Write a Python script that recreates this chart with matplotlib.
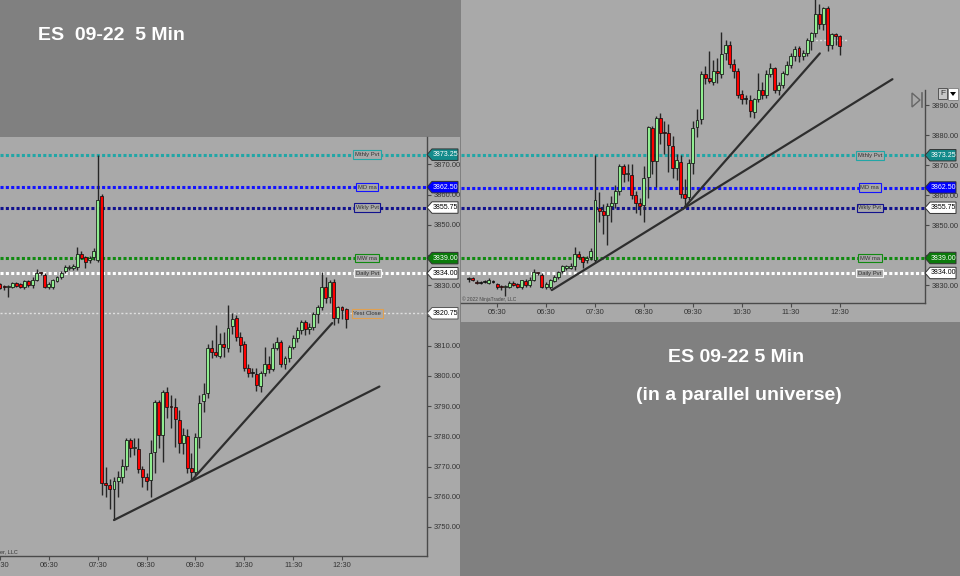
import matplotlib
matplotlib.use('Agg')
import matplotlib.pyplot as plt
from matplotlib.patches import Rectangle, Polygon
import pandas as pd

# ---- data: ES 09-22, 5 min bars from 04:55 ----
opens = [3832.0, 3832.4, 3831.1, 3830.8, 3831.1, 3830.8, 3831.1, 3830.3, 3829.4, 3829.3,
         3829.4, 3830.7, 3830.3, 3829.4, 3831.5, 3830.1, 3831.8, 3834.2, 3833.4, 3829.4,
         3829.4, 3831.5, 3832.6, 3834.6, 3835.7, 3835.7, 3836.2, 3840.3, 3839.5, 3838.3,
         3839.5, 3838.4, 3859.6, 3764.5, 3763.8, 3762.5, 3765.2, 3766.4, 3770.2, 3778.8,
         3776.0, 3775.7, 3769.1, 3766.4, 3765.6, 3774.9, 3791.5, 3780.5, 3794.8, 3790.0,
         3789.8, 3785.4, 3777.9, 3780.1, 3769.4, 3768.3, 3779.7, 3791.7, 3794.5, 3809.2,
         3808.0, 3806.7, 3810.5, 3809.4, 3816.4, 3819.1, 3812.8, 3810.5, 3802.5, 3801.0,
         3800.7, 3796.7, 3800.9, 3803.9, 3802.2, 3809.2, 3811.4, 3804.0, 3805.8, 3809.5,
         3812.5, 3815.2, 3818.0, 3815.5, 3816.3, 3820.5, 3822.9, 3829.4, 3826.0, 3831.2,
         3819.1, 3822.7, 3822.1]
highs = [3832.8, 3832.8, 3831.6, 3831.3, 3831.6, 3832.3, 3831.6, 3830.8, 3830.1, 3830.0,
         3831.2, 3831.2, 3830.8, 3831.8, 3831.9, 3832.6, 3835.3, 3834.5, 3834.0, 3831.0,
         3832.1, 3833.2, 3834.8, 3836.8, 3836.6, 3837.2, 3842.8, 3841.2, 3839.8, 3839.6,
         3842.5, 3873.25, 3860.2, 3770.0, 3766.0, 3766.5, 3768.6, 3772.4, 3779.3, 3779.3,
         3779.3, 3779.3, 3770.2, 3768.0, 3778.8, 3792.0, 3792.0, 3795.4, 3796.5, 3793.7,
         3792.6, 3788.8, 3782.7, 3782.3, 3774.4, 3781.0, 3793.7, 3797.6, 3810.5, 3811.9,
         3816.9, 3814.1, 3814.7, 3823.5, 3820.7, 3820.2, 3814.5, 3811.5, 3804.0, 3802.5,
         3802.5, 3801.5, 3809.7, 3806.7, 3810.8, 3813.0, 3811.8, 3806.6, 3810.3, 3813.6,
         3816.3, 3818.6, 3818.6, 3817.4, 3821.3, 3823.4, 3834.3, 3832.6, 3831.8, 3832.0,
         3823.0, 3823.0, 3822.4]
lows = [3831.1, 3831.3, 3830.2, 3830.3, 3830.6, 3830.5, 3830.6, 3828.7, 3828.5, 3826.3,
        3829.0, 3829.6, 3829.0, 3828.8, 3829.4, 3829.2, 3831.5, 3833.4, 3829.0, 3828.8,
        3828.8, 3831.0, 3832.0, 3834.0, 3835.0, 3835.2, 3835.0, 3838.7, 3835.7, 3837.4,
        3838.3, 3837.8, 3760.6, 3760.0, 3755.9, 3752.3, 3760.0, 3764.7, 3768.9, 3773.3,
        3773.8, 3767.8, 3763.1, 3762.3, 3760.0, 3767.9, 3776.0, 3771.6, 3786.0, 3782.7,
        3776.6, 3774.6, 3774.0, 3768.0, 3765.3, 3767.2, 3776.0, 3788.2, 3792.6, 3806.0,
        3806.4, 3805.8, 3806.2, 3808.0, 3814.0, 3811.5, 3808.0, 3801.5, 3799.5, 3799.5,
        3795.0, 3794.8, 3800.0, 3801.0, 3801.5, 3808.5, 3803.0, 3802.4, 3804.6, 3809.0,
        3811.2, 3813.8, 3813.4, 3813.9, 3815.2, 3817.5, 3821.8, 3824.3, 3824.0, 3817.0,
        3817.6, 3819.0, 3815.8]
closes = [3832.0, 3831.7, 3830.6, 3830.8, 3831.1, 3831.6, 3831.1, 3829.2, 3829.3, 3829.4,
          3830.7, 3829.9, 3829.4, 3831.5, 3830.1, 3831.8, 3834.2, 3834.0, 3829.4, 3830.4,
          3831.7, 3832.6, 3834.2, 3836.2, 3836.2, 3836.4, 3840.3, 3839.2, 3837.6, 3839.0,
          3841.4, 3858.3, 3764.7, 3763.8, 3762.5, 3765.2, 3766.4, 3770.2, 3778.8, 3776.0,
          3776.1, 3769.1, 3766.4, 3765.2, 3774.6, 3791.5, 3780.5, 3794.8, 3789.8, 3789.6,
          3785.7, 3777.9, 3780.5, 3769.4, 3768.1, 3779.7, 3791.2, 3793.9, 3809.4, 3808.0,
          3807.0, 3810.5, 3809.7, 3816.0, 3818.9, 3812.8, 3810.3, 3802.5, 3800.9, 3801.0,
          3797.0, 3800.9, 3803.9, 3802.2, 3809.2, 3811.4, 3804.0, 3805.8, 3809.5, 3812.5,
          3815.2, 3817.8, 3815.5, 3816.3, 3820.5, 3822.9, 3829.4, 3825.9, 3831.2, 3819.1,
          3822.7, 3821.9, 3818.8]

times = pd.date_range('2022-09-13 04:55', periods=len(opens), freq='5min').strftime('%H:%M').tolist()
tick_labels = ['05:30', '06:30', '07:30', '08:30', '09:30', '10:30', '11:30', '12:30']

# the "parallel universe": the 07:35 gap bar removed, later bars lifted by the gap
gap_bar = 32
gap_size = 91.0

level_names = ['Mthly Pvt', 'MD ma', 'Wkly Pvt', 'MW ma', 'Daily Pvt']
level_prices = [3873.25, 3862.50, 3855.75, 3839.00, 3834.00]
level_colors = ['#22a6a6', '#1414ff', '#12128e', '#118a11', '#ffffff']
tag_faces = ['#138b8b', '#0000ff', '#ffffff', '#0b7a0b', '#ffffff']
tag_text = ['white', 'white', 'black', 'white', 'black']
yest_close = 3820.75

# price axis labels hidden under the price tags
left_yticks = [3750, 3760, 3770, 3780, 3790, 3800, 3810, 3820, 3830, 3840, 3850, 3860, 3870]
right_yticks = [3830, 3840, 3850, 3860, 3870, 3880, 3890]
covered_ticks = [3820, 3840]

# trend lines (bar index, price)
left_trend = [((54, 3765.3), (88.6, 3817.5)), ((35, 3752.3), (100.2, 3796.5))]
right_trend = [((53, 3856.0), (86.1, 3907.2)), ((20.4, 3828.3), (103.9, 3898.6))]

# ---- figure ----
W, H = 960, 576
BG_DARK = '#808080'
BG_LIGHT = '#a9a9a9'
plt.rcParams['font.family'] = ['Liberation Sans Narrow', 'Liberation Sans', 'DejaVu Sans']

fig = plt.figure(figsize=(9.6, 5.76), dpi=100, facecolor=BG_DARK)


def rect(x0, y0, x1, y1):
    return [x0 / W, 1 - y1 / H, (x1 - x0) / W, (y1 - y0) / H]


fig.patches.append(Rectangle((0, 0), 460 / W, 1 - 137 / H, transform=fig.transFigure,
                             fc=BG_LIGHT, ec='none', zorder=-10))
fig.patches.append(Rectangle((461 / W, 1 - 322 / H), 1 - 461 / W, 322 / H, transform=fig.transFigure,
                             fc=BG_LIGHT, ec='none', zorder=-10))

ax1 = fig.add_axes(rect(0, 137, 427, 556), facecolor=BG_LIGHT)
ax2 = fig.add_axes(rect(461, 0, 925, 303), facecolor=BG_LIGHT)
ax1_w, ax2_w = 427, 464

bar_px = 4.08
ax1.set_xlim(31 - 97 / bar_px, 31 + 330 / bar_px)
ax1.set_ylim(3740.4, 3879.1)
ax2.set_xlim(31 - 134 / bar_px, 31 + 330 / bar_px)
ax2.set_ylim(3824.0, 3925.0)


def draw_candles(ax, o, h, l, c):
    idx = list(range(len(o)))
    ax.vlines(idx, l, h, color='#262626', lw=1.0, zorder=4)
    bottoms = [min(a, b) for a, b in zip(o, c)]
    heights = [max(abs(b - a), 0.35) for a, b in zip(o, c)]
    colors = ['#90ee90' if b > a else ('#ff0000' if b < a else '#222222') for a, b in zip(o, c)]
    ax.bar(idx, heights, bottom=bottoms, width=0.72, color=colors, edgecolor='#111111',
           linewidth=0.55, zorder=5)


def style_axes(ax, yticks):
    ax.spines['top'].set_visible(False)
    ax.spines['left'].set_visible(False)
    for s in ['right', 'bottom']:
        ax.spines[s].set_color('#4a4a4a')
        ax.spines[s].set_linewidth(1.0)
    ax.yaxis.tick_right()
    ax.set_yticks(yticks)
    ax.set_yticklabels(['' if v in covered_ticks else f'{v:.2f}' for v in yticks])
    ax.set_xticks([times.index(t) for t in tick_labels])
    ax.set_xticklabels(tick_labels)
    ax.tick_params(axis='both', length=3, width=0.8, color='#4a4a4a', labelcolor='#333333',
                   labelsize=5.4, pad=1.5)


def add_tag(ax, ax_w, p, txt, fc, tc, ec='#333333'):
    tr = ax.get_yaxis_transform()
    dy = 1.9
    pts = [(1, p), (1 + 5 / ax_w, p + dy), (1 + 31 / ax_w, p + dy), (1 + 31 / ax_w, p - dy),
           (1 + 5 / ax_w, p - dy)]
    ax.add_patch(Polygon(pts, closed=True, transform=tr, fc=fc, ec=ec, lw=0.7,
                         clip_on=False, zorder=8))
    ax.text(1 + 18 / ax_w, p, txt, transform=tr, ha='center', va='center', fontsize=5.0,
            color=tc, zorder=9, clip_on=False)


def add_levels(ax, ax_w, label_x, prices):
    tr = ax.get_yaxis_transform()
    for name, p, col, fc, tc in zip(level_names, prices, level_colors, tag_faces, tag_text):
        ax.axhline(p, color=col, lw=2.2, linestyle=(0, (1.0, 0.75)), dash_capstyle='butt', zorder=2)
        ax.text(label_x, p, name, transform=tr, ha='center', va='center', fontsize=4.2,
                color='#333333', zorder=7,
                bbox=dict(boxstyle='square,pad=0.3', fc=BG_LIGHT,
                          ec=col if col != '#ffffff' else '#f2f2f2', lw=0.8))
        add_tag(ax, ax_w, p, f'{p:.2f}', fc, tc)


# ---- left chart: what really happened ----
style_axes(ax1, left_yticks)
add_levels(ax1, ax1_w, 0.86, level_prices)
ax1.axhline(yest_close, color='#dedede', lw=1.0, linestyle=(0, (1.5, 1.5)), zorder=2)
ax1.text(0.86, yest_close, 'Yest Close', transform=ax1.get_yaxis_transform(), ha='center', va='center',
         fontsize=4.2, color='#333333', zorder=7,
         bbox=dict(boxstyle='square,pad=0.3', fc=BG_LIGHT, ec='#e0a050', lw=0.8))
add_tag(ax1, ax1_w, yest_close, f'{yest_close:.2f}', '#ffffff', 'black', ec='#555555')
draw_candles(ax1, opens, highs, lows, closes)
for (x0, y0), (x1, y1) in left_trend:
    ax1.plot([x0, x1], [y0, y1], color='#2e2e2e', lw=1.6, solid_capstyle='round', zorder=6)
fig.text(18 / W, 1 - 552 / H, '© 2022 NinjaTrader, LLC', ha='right', va='center', fontsize=4,
         color='#333333')

# ---- right chart: the parallel universe ----
r_open = opens[:gap_bar] + [v + gap_size for v in opens[gap_bar + 1:]]
r_high = highs[:gap_bar] + [v + gap_size for v in highs[gap_bar + 1:]]
r_low = lows[:gap_bar] + [v + gap_size for v in lows[gap_bar + 1:]]
r_close = closes[:gap_bar] + [v + gap_size for v in closes[gap_bar + 1:]]

style_axes(ax2, right_yticks)
ax2.spines['right'].set_bounds(3824.0, 3895.0)
add_levels(ax2, ax2_w, 0.881, level_prices)
ax2.plot([83, 92.8], [yest_close + gap_size] * 2, color='#dedede', lw=1.0,
         linestyle=(0, (1.5, 1.5)), zorder=2)
draw_candles(ax2, r_open, r_high, r_low, r_close)
for (x0, y0), (x1, y1) in right_trend:
    ax2.plot([x0, x1], [y0, y1], color='#2e2e2e', lw=1.6, solid_capstyle='round', zorder=6)
fig.text(462 / W, 1 - 299 / H, '© 2022 NinjaTrader, LLC', ha='left', va='center', fontsize=3.5,
         color='#444444')

# chart widgets top right
fig.patches.append(Polygon([(912 / W, 1 - 93 / H), (912 / W, 1 - 107 / H), (920 / W, 1 - 100 / H)],
                           closed=True, transform=fig.transFigure, fc='none', ec='#666666', lw=1))
fig.lines.append(plt.Line2D([922 / W, 922 / W], [1 - 93 / H, 1 - 107 / H], transform=fig.transFigure,
                            color='#666666', lw=1.2))
fig.patches.append(Rectangle((938 / W, 1 - 99 / H), 9 / W, 11 / H, transform=fig.transFigure,
                             fc='#c8c8c8', ec='#555555', lw=0.7))
fig.text(942.5 / W, 1 - 93.5 / H, 'F', ha='center', va='center', fontsize=6, color='#333333')
fig.patches.append(Rectangle((948 / W, 1 - 100 / H), 10 / W, 12 / H, transform=fig.transFigure,
                             fc='#ffffff', ec='#888888', lw=0.7))
fig.patches.append(Polygon([(950 / W, 1 - 92 / H), (956 / W, 1 - 92 / H), (953 / W, 1 - 96 / H)],
                           closed=True, transform=fig.transFigure, fc='black', ec='none'))

# titles
title_font = dict(color='white', fontsize=14, fontweight='bold', family=['Liberation Sans', 'DejaVu Sans'])
fig.text(38 / W, 1 - 36 / H, 'ES  09-22  5 Min', ha='left', va='center', **title_font)
fig.text(736 / W, 1 - 358 / H, 'ES 09-22 5 Min', ha='center', va='center', **title_font)
fig.text(739 / W, 1 - 396 / H, '(in a parallel universe)', ha='center', va='center', **title_font)

fig.savefig('out.png', dpi=100, facecolor=BG_DARK)
